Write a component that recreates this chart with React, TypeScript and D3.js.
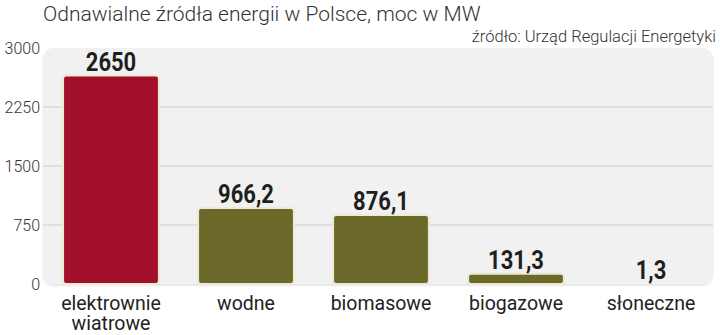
import React from "react";
import * as d3 from "d3";

const categories: string[][] = [
  ["elektrownie", "wiatrowe"],
  ["wodne"],
  ["biomasowe"],
  ["biogazowe"],
  ["słoneczne"],
];
const values: number[] = [2650, 966.2, 876.1, 131.3, 1.3];
const valueLabels: string[] = ["2650", "966,2", "876,1", "131,3", "1,3"];
const yTicks: number[] = [0, 750, 1500, 2250, 3000];
const title = "Odnawialne źródła energii w Polsce, moc w MW";
const source = "źródło: Urząd Regulacji Energetyki";

const W = 720;
const H = 335;
const plotLeft = 43;
const plotRight = 713;
const plotTop = 48;
const plotBottom = 284;

export default function App() {
  const y = d3.scaleLinear().domain([0, 3000]).range([plotBottom, plotTop]);
  const x = d3
    .scaleBand<number>()
    .domain(values.map((_, i) => i))
    .range([43.5, 718.5])
    .paddingInner(0.29)
    .paddingOuter(0.145);
  const colors = ["#a10f2b", "#6c6a2b", "#6c6a2b", "#6c6a2b", "#6c6a2b"];
  const sans = "Roboto, 'Open Sans', sans-serif";

  return (
    <svg
      width={W}
      height={H}
      style={{ position: "absolute", left: 0, top: 0, background: "#fff" }}
    >
      <defs>
        <filter id="sh" x="-5%" y="-5%" width="110%" height="115%">
          <feDropShadow dx="0" dy="1.5" stdDeviation="1.2" floodColor="#000" floodOpacity="0.12" />
        </filter>
      </defs>
      <text x={43} y={21} fontFamily={sans} fontWeight={300} fontSize={21} fill="#333">
        {title}
      </text>
      <text x={716} y={42} textAnchor="end" fontFamily={sans} fontWeight={300} fontSize={16.5} fill="#333">
        {source}
      </text>
      <rect
        x={plotLeft}
        y={plotTop}
        width={plotRight - plotLeft}
        height={plotBottom - plotTop}
        rx={11}
        ry={11}
        fill="#f1f1f1"
        filter="url(#sh)"
      />
      {yTicks.map((t) => (
        <g key={t}>
          {t > 0 && t < 3000 && (
            <line x1={plotLeft} x2={plotRight} y1={y(t)} y2={y(t)} stroke="#d9d9d9" strokeWidth={1.5} />
          )}
          <text
            x={40}
            y={y(t)}
            dy="0.36em"
            textAnchor="end"
            fontFamily={sans}
            fontWeight={300}
            fontSize={16}
            fill="#333"
          >
            {t}
          </text>
        </g>
      ))}
      {values.map((v, i) => {
        const bx = x(i)!;
        const bw = x.bandwidth();
        const top = y(v);
        const h = Math.max(0, plotBottom - top);
        const cx = bx + bw / 2;
        return (
          <g key={i}>
            {h > 1 && (
              <rect
                x={bx}
                y={top}
                width={bw}
                height={h}
                rx={3}
                ry={3}
                fill={colors[i]}
                stroke="#efe9d6"
                strokeWidth={2}
              />
            )}
            <text
              transform={`translate(${cx},${top - 5}) scale(0.88,1)`}
              textAnchor="middle"
              fontFamily={sans}
              fontWeight={700}
              fontSize={25}
              fill="#1e1e1e"
            >
              {valueLabels[i]}
            </text>
            <text textAnchor="middle" fontFamily={sans} fontSize={19.5} fill="#222">
              {categories[i].map((line, j) => (
                <tspan key={j} x={cx} y={310 + j * 20}>
                  {line}
                </tspan>
              ))}
            </text>
          </g>
        );
      })}
    </svg>
  );
}
